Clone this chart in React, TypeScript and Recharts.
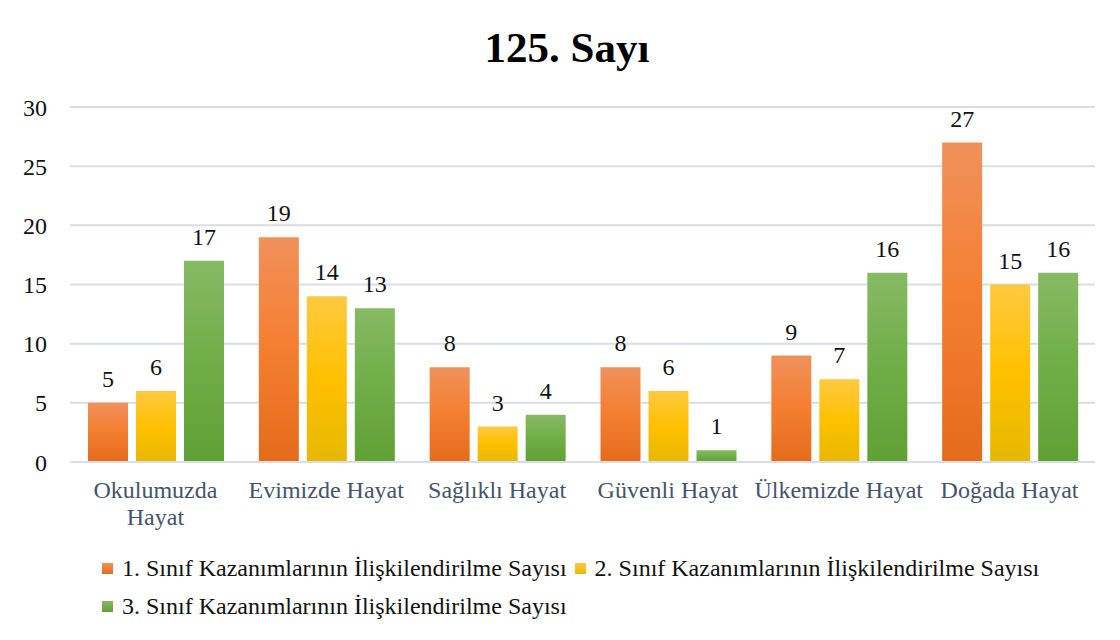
import React from 'react';
import { BarChart, Bar, XAxis, YAxis, CartesianGrid, LabelList, Legend } from 'recharts';

const categories = ['Okulumuzda Hayat', 'Evimizde Hayat', 'Sağlıklı Hayat', 'Güvenli Hayat', 'Ülkemizde Hayat', 'Doğada Hayat'];
const sinif1 = [5, 19, 8, 8, 9, 27];
const sinif2 = [6, 14, 3, 6, 7, 15];
const sinif3 = [17, 13, 4, 1, 16, 16];
const seriesNames = [
  '1. Sınıf Kazanımlarının İlişkilendirilme Sayısı',
  '2. Sınıf Kazanımlarının İlişkilendirilme Sayısı',
  '3. Sınıf Kazanımlarının İlişkilendirilme Sayısı',
];
const yTicks = [0, 5, 10, 15, 20, 25, 30];

const data = categories.map((name, i) => ({
  name,
  s1: sinif1[i],
  s2: sinif2[i],
  s3: sinif3[i],
}));

const FONT = '"Liberation Serif", "Times New Roman", serif';
const GRADS = [
  ['#F0915A', '#F47E30', '#E36B1C'],
  ['#FFC940', '#FFC000', '#E6B800'],
  ['#86BA65', '#70AD47', '#60A034'],
];

// long labels wrap onto two lines, like the original
const splitLabel = (s: string) => {
  if (s.length <= 15) return [s];
  const k = s.lastIndexOf(' ');
  return [s.slice(0, k), s.slice(k + 1)];
};

const XTick = (props: any) => {
  const { x, y, payload } = props;
  const lines = splitLabel(payload.value);
  return (
    <text x={x} y={y + 28} textAnchor="middle" style={{ fontFamily: FONT, fontSize: 24, fill: '#44546A' }}>
      {lines.map((l, i) => (
        <tspan key={i} x={x} dy={i === 0 ? 0 : 27}>{l}</tspan>
      ))}
    </text>
  );
};

const LegendContent = (props: any) => {
  const { payload } = props;
  return (
    <div style={{ display: 'flex', flexWrap: 'wrap', width: 1000, height: 76, fontFamily: FONT, fontSize: 24, color: '#111' }}>
      {payload.map((p: any, i: number) => (
        <div key={i} style={{ display: 'flex', alignItems: 'center', height: 38, marginRight: 8 }}>
          <span style={{ display: 'inline-block', width: 11, height: 11, backgroundImage: `linear-gradient(${GRADS[i][0]}, ${GRADS[i][2]})`, marginRight: 9 }} />
          <span>{p.value}</span>
        </div>
      ))}
    </div>
  );
};

export default function App() {
  return (
    <div style={{ position: 'relative', width: 1120, height: 640, margin: -8, background: '#fff', overflow: 'hidden' }}>
      <div style={{ position: 'absolute', left: 0, width: 1134, top: 23, textAlign: 'center', fontFamily: FONT, fontWeight: 'bold', fontSize: 43, color: '#000' }}>
        125. Sayı
      </div>
      <div style={{ position: 'absolute', left: 0, top: 0 }}>
        <BarChart
          width={1120}
          height={640}
          data={data}
          margin={{ top: 107, right: 25, left: 0, bottom: 42 }}
          barCategoryGap={18}
          barGap={8}
        >
          <defs>
            {GRADS.map((g, i) => (
              <linearGradient key={i} id={`g${i + 1}`} x1="0" y1="0" x2="0" y2="1">
                <stop offset="0%" stopColor={g[0]} />
                <stop offset="50%" stopColor={g[1]} />
                <stop offset="100%" stopColor={g[2]} />
              </linearGradient>
            ))}
          </defs>
          <CartesianGrid vertical={false} stroke="#D9DEE5" strokeWidth={2} />
          <XAxis
            dataKey="name"
            axisLine={{ stroke: '#D9DEE5', strokeWidth: 2 }}
            tickLine={false}
            height={60}
            interval={0}
            tick={<XTick />}
          />
          <YAxis
            width={70}
            domain={[0, 30]}
            ticks={yTicks}
            axisLine={false}
            tickLine={false}
            tickSize={0}
            tickMargin={23}
            tick={{ fontFamily: FONT, fontSize: 24, fill: '#111' }}
          />
          <Legend
            verticalAlign="bottom"
            content={<LegendContent />}
            wrapperStyle={{ left: 102, top: 549, width: 1000, height: 76 }}
          />
          <Bar dataKey="s1" name={seriesNames[0]} fill="url(#g1)" isAnimationActive={false}>
            <LabelList dataKey="s1" position="top" offset={16} style={{ fontFamily: FONT, fontSize: 24, fill: '#111' }} />
          </Bar>
          <Bar dataKey="s2" name={seriesNames[1]} fill="url(#g2)" isAnimationActive={false}>
            <LabelList dataKey="s2" position="top" offset={16} style={{ fontFamily: FONT, fontSize: 24, fill: '#111' }} />
          </Bar>
          <Bar dataKey="s3" name={seriesNames[2]} fill="url(#g3)" isAnimationActive={false}>
            <LabelList dataKey="s3" position="top" offset={16} style={{ fontFamily: FONT, fontSize: 24, fill: '#111' }} />
          </Bar>
        </BarChart>
      </div>
      <div style={{ position: 'absolute', left: 6, top: 6, width: 1200, height: 700, borderLeft: '2px solid #D0D4D9', borderTop: '2px solid #D0D4D9', pointerEvents: 'none', zIndex: 5 }} />
    </div>
  );
}
